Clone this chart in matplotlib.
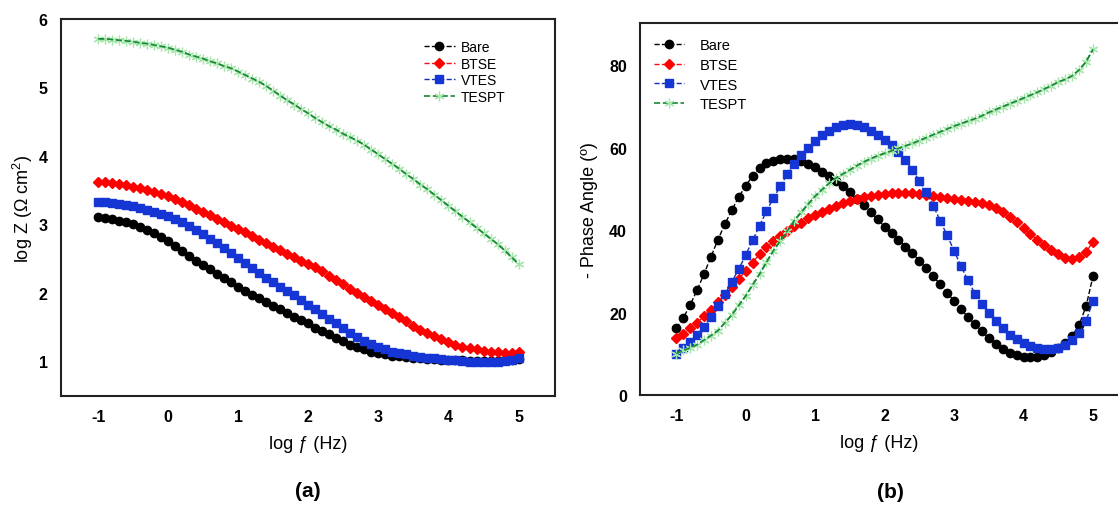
import numpy as np
import matplotlib.pyplot as plt

plt.rcParams['font.family'] = ['Liberation Sans', 'DejaVu Sans']
plt.rcParams['mathtext.fontset'] = 'custom'
plt.rcParams['mathtext.rm'] = 'Liberation Sans'
plt.rcParams['mathtext.it'] = 'Liberation Sans:italic'
plt.rcParams['axes.unicode_minus'] = False

# frequency sweep, 10 points per decade
log_f = np.linspace(-1, 5, 61)

labels = ['Bare', 'BTSE', 'VTES', 'TESPT']

# (a) log |Z|
bare_z = [3.10, 3.09, 3.07, 3.05, 3.03, 3.00, 2.96, 2.92, 2.87, 2.81,
          2.75, 2.68, 2.61, 2.54, 2.47, 2.40, 2.34, 2.27, 2.21, 2.15,
          2.09, 2.03, 1.97, 1.92, 1.86, 1.81, 1.76, 1.70, 1.65, 1.60,
          1.55, 1.49, 1.44, 1.39, 1.34, 1.29, 1.24, 1.20, 1.17, 1.14,
          1.12, 1.10, 1.08, 1.07, 1.06, 1.05, 1.04, 1.03, 1.03, 1.02,
          1.02, 1.01, 1.01, 1.00, 1.00, 1.00, 1.00, 1.00, 1.01, 1.02,
          1.03]
btse_z = [3.62, 3.62, 3.61, 3.59, 3.57, 3.55, 3.53, 3.50, 3.47, 3.44,
          3.41, 3.37, 3.32, 3.28, 3.23, 3.18, 3.13, 3.08, 3.03, 2.98,
          2.93, 2.88, 2.83, 2.77, 2.72, 2.67, 2.62, 2.57, 2.52, 2.47,
          2.42, 2.37, 2.31, 2.25, 2.19, 2.13, 2.06, 2.00, 1.94, 1.88,
          1.82, 1.76, 1.70, 1.64, 1.58, 1.52, 1.46, 1.41, 1.36, 1.32,
          1.28, 1.24, 1.21, 1.19, 1.17, 1.15, 1.14, 1.13, 1.12, 1.12,
          1.13]
vtes_z = [3.32, 3.32, 3.31, 3.30, 3.28, 3.26, 3.24, 3.21, 3.18, 3.15,
          3.12, 3.08, 3.03, 2.98, 2.92, 2.86, 2.79, 2.72, 2.65, 2.58,
          2.51, 2.44, 2.36, 2.29, 2.22, 2.15, 2.09, 2.03, 1.96, 1.89,
          1.82, 1.76, 1.69, 1.62, 1.55, 1.48, 1.41, 1.35, 1.30, 1.25,
          1.21, 1.17, 1.14, 1.12, 1.10, 1.08, 1.06, 1.05, 1.04, 1.03,
          1.02, 1.01, 1.00, 0.99, 0.99, 0.99, 0.99, 0.99, 1.00, 1.02,
          1.04]
tespt_z = [5.71, 5.71, 5.70, 5.69, 5.68, 5.67, 5.65, 5.64, 5.62, 5.60,
           5.58, 5.55, 5.52, 5.48, 5.45, 5.42, 5.38, 5.35, 5.31, 5.28,
           5.23, 5.18, 5.13, 5.08, 5.02, 4.95, 4.88, 4.81, 4.75, 4.68,
           4.62, 4.55, 4.49, 4.43, 4.38, 4.32, 4.27, 4.22, 4.16, 4.09,
           4.02, 3.95, 3.88, 3.81, 3.73, 3.66, 3.58, 3.51, 3.43, 3.35,
           3.27, 3.19, 3.11, 3.03, 2.95, 2.87, 2.79, 2.71, 2.62, 2.52,
           2.42]

# (b) - phase angle
bare_ph = [16.2, 18.6, 21.8, 25.4, 29.3, 33.5, 37.6, 41.4, 44.8, 48.0,
           50.7, 53.1, 55.0, 56.2, 56.8, 57.2, 57.3, 57.2, 56.8, 56.0,
           55.2, 54.1, 53.0, 51.9, 50.6, 49.1, 47.5, 46.0, 44.3, 42.6,
           40.8, 39.2, 37.6, 36.0, 34.4, 32.6, 30.7, 28.8, 26.8, 24.8,
           22.8, 20.8, 18.9, 17.1, 15.4, 13.8, 12.4, 11.2, 10.3, 9.7,
           9.3, 9.2, 9.3, 9.8, 10.5, 11.4, 12.6, 14.3, 17.0, 21.5,
           28.8]
btse_ph = [13.8, 14.9, 16.2, 17.5, 19.1, 20.7, 22.6, 24.2, 26.1, 28.1,
           30.1, 32.1, 34.2, 35.8, 37.4, 38.6, 39.8, 40.9, 41.8, 42.8,
           43.6, 44.4, 45.1, 45.9, 46.5, 47.1, 47.6, 48.0, 48.3, 48.5,
           48.8, 49.0, 49.0, 49.0, 48.9, 48.7, 48.5, 48.2, 48.0, 47.7,
           47.5, 47.4, 47.1, 46.9, 46.5, 46.0, 45.3, 44.3, 43.1, 41.9,
           40.4, 39.0, 37.6, 36.3, 35.2, 34.1, 33.1, 32.9, 33.4, 34.6,
           37.2]
vtes_ph = [10.0, 11.3, 12.9, 14.5, 16.6, 18.9, 21.5, 24.4, 27.4, 30.5,
           33.9, 37.5, 41.0, 44.6, 47.7, 50.7, 53.5, 56.0, 58.2, 60.0,
           61.6, 63.0, 64.1, 64.9, 65.5, 65.7, 65.5, 64.9, 64.1, 63.0,
           61.8, 60.6, 59.0, 56.9, 54.6, 52.0, 49.2, 45.9, 42.3, 38.7,
           35.0, 31.2, 27.8, 24.6, 22.1, 19.9, 18.0, 16.2, 14.6, 13.5,
           12.5, 11.8, 11.3, 11.1, 11.2, 11.5, 12.2, 13.3, 15.1, 17.9,
           22.8]
tespt_ph = [10.0, 10.8, 11.4, 12.2, 13.3, 14.4, 15.6, 17.5, 19.4, 21.7,
            24.0, 26.7, 29.3, 32.2, 35.0, 37.4, 39.8, 42.3, 44.3, 46.3,
            48.2, 49.8, 51.3, 52.6, 53.6, 54.6, 55.6, 56.5, 57.3, 58.0,
            58.6, 59.2, 59.8, 60.4, 61.0, 61.7, 62.4, 63.1, 63.8, 64.5,
            65.2, 65.8, 66.4, 67.0, 67.7, 68.5, 69.2, 69.9, 70.6, 71.3,
            72.0, 72.7, 73.4, 74.2, 75.0, 75.9, 76.5, 77.4, 78.8, 80.8,
            83.8]

green_line = '#178a36'
styles = [
    dict(color='black', marker='o', ms=6, mfc='black', mec='black'),
    dict(color='#ee1111', marker='D', ms=5.5, mfc='#ff0000', mec='#ff0000'),
    dict(color='#1030b0', marker='s', ms=5.5, mfc='#1535d5', mec='#1535d5'),
    dict(color=green_line, marker=(6, 2, 0), ms=7, mfc='#a8e6ae', mec='#a8e6ae', mew=0.9),
]

fig = plt.figure(figsize=(11.18, 5.06), dpi=100)
ax1 = fig.add_axes([0.0546, 0.2154, 0.4418, 0.7451])
ax2 = fig.add_axes([0.5725, 0.2174, 0.4275, 0.7352])

for ax, series in ((ax1, [bare_z, btse_z, vtes_z, tespt_z]),
                   (ax2, [bare_ph, btse_ph, vtes_ph, tespt_ph])):
    for ys, lab, st in zip(series, labels, styles):
        lw = 1.2 if lab == 'TESPT' else 1
        ax.plot(log_f, ys, ls='--', lw=lw, label=lab, **st)
    # dark dashes of TESPT sit on top of its light markers
    ax.plot(log_f, series[3], ls='--', lw=1.2, color=green_line)

ax1.set_xlim(-1.53, 5.52)
ax1.set_ylim(0.49, 6.0)
ax1.set_yticks([1, 2, 3, 4, 5, 6])
ax2.set_xlim(-1.52, 5.36)
ax2.set_ylim(0, 90.2)
ax2.set_yticks([0, 20, 40, 60, 80])
ax2.spines['right'].set_visible(False)

for ax in (ax1, ax2):
    ax.set_xticks([-1, 0, 1, 2, 3, 4, 5])
    ax.tick_params(length=0, pad=9.5, labelsize=11.5)
    for t in ax.get_xticklabels() + ax.get_yticklabels():
        t.set_fontweight('bold')
    for s in ax.spines.values():
        s.set_linewidth(1.5)
        s.set_color('#222222')
    ax.set_xlabel('log ƒ (Hz)', fontsize=13, labelpad=8)

ax1.set_ylabel('log Z (Ω cm$^2$)', fontsize=13, labelpad=3)
ax2.set_ylabel('- Phase Angle (º)', fontsize=13, labelpad=8)

ax1.legend(loc='upper left', bbox_to_anchor=(0.735, 0.945), frameon=False,
           fontsize=10, handlelength=2.2, handletextpad=0.45, labelspacing=0.2,
           borderpad=0, borderaxespad=0)
ax2.legend(loc='upper left', bbox_to_anchor=(0.03, 0.96), frameon=False,
           fontsize=10.5, handlelength=2.0, handletextpad=1.1, labelspacing=0.4,
           borderpad=0, borderaxespad=0)

fig.text(308 / 1118, 1 - 492 / 506, '(a)', ha='center', va='center',
         fontsize=15, fontweight='bold')
fig.text(890 / 1118, 1 - 493 / 506, '(b)', ha='center', va='center',
         fontsize=15, fontweight='bold')

fig.savefig('out.png', dpi=100)
